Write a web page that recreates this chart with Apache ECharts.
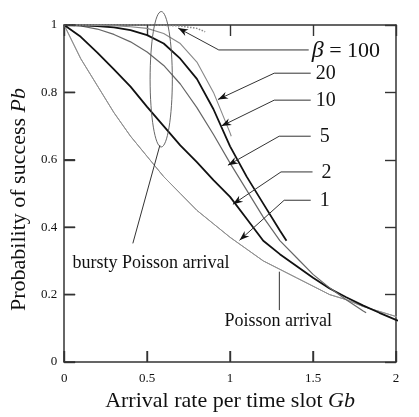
<!DOCTYPE html>
<html><head><meta charset="utf-8">
<script src="https://cdn.jsdelivr.net/npm/echarts/dist/echarts.min.js"></script>
<style>html,body{margin:0;padding:0;background:#fff}#c{width:419px;height:417px}</style>
</head><body><div id="c"></div>
<script>
// ---- data ----
const xTicks = [0, 0.5, 1, 1.5, 2];
const yTicks = [0, 0.2, 0.4, 0.6, 0.8, 1];

const gPoisson = [0,0.1,0.2,0.3,0.4,0.5,0.6,0.7,0.8,0.9,1.0,1.1,1.2,1.3,1.4,1.5,1.6,1.7,1.8,1.9,2.0,2.1,2.15];
const pPoisson = [1.0,0.90,0.82,0.74,0.67,0.61,0.55,0.50,0.45,0.41,0.37,0.335,0.30,0.275,0.25,0.225,0.20,0.185,0.165,0.15,0.135,0.12,0.115];

const gBeta1 = [0,0.1,0.2,0.3,0.4,0.5,0.6,0.7,0.8,0.9,1.0,1.1,1.2,1.3,1.4,1.5,1.6,1.7,1.8,1.9,2.0,2.1,2.15];
const pBeta1 = [1.0,0.90,0.82,0.74,0.67,0.61,0.55,0.50,0.45,0.41,0.37,0.335,0.30,0.275,0.25,0.225,0.20,0.185,0.165,0.15,0.135,0.12,0.115];

const gBeta2 = [0,0.1,0.2,0.3,0.4,0.5,0.6,0.7,0.8,0.9,1.0,1.1,1.2,1.3,1.4,1.5,1.6,1.7,1.8,1.9,2.0,2.1,2.15];
const pBeta2 = [1.0,0.965,0.918,0.868,0.817,0.757,0.70,0.643,0.593,0.54,0.49,0.425,0.36,0.32,0.285,0.25,0.218,0.192,0.168,0.146,0.125,0.106,0.098];

const gBeta5 = [0,0.1,0.2,0.3,0.4,0.5,0.6,0.7,0.8,0.9,1.0,1.1,1.2,1.3,1.4,1.5,1.6,1.7,1.8,1.82];
const pBeta5 = [1.0,0.997,0.988,0.972,0.95,0.92,0.88,0.825,0.755,0.675,0.59,0.51,0.43,0.36,0.31,0.26,0.22,0.185,0.152,0.146];

const gBeta10 = [0,0.1,0.2,0.3,0.4,0.5,0.6,0.7,0.8,0.9,1.0,1.1,1.2,1.3,1.34];
const pBeta10 = [1.0,0.999,0.997,0.993,0.985,0.97,0.945,0.90,0.84,0.75,0.64,0.55,0.47,0.39,0.36];

const gBeta20 = [0,0.1,0.2,0.3,0.4,0.5,0.6,0.7,0.8,0.9,1.0,1.007];
const pBeta20 = [1.0,1.0,0.999,0.998,0.995,0.99,0.975,0.945,0.89,0.80,0.68,0.67];

const gBeta100 = [0,0.1,0.2,0.3,0.4,0.5,0.6,0.7,0.8,0.85];
const pBeta100 = [1.0,1.0,1.0,1.0,1.0,1.0,0.999,0.997,0.99,0.98];

// callout annotations (data coordinates)
const calloutText = ['{b|β} = 100', '20', '10', '5', '2', '1'];
const calloutTip   = [[0.687,0.991],[0.927,0.779],[0.947,0.700],[0.987,0.584],[1.017,0.468],[1.057,0.361]];
const calloutElbow = [[0.932,0.926],[1.266,0.857],[1.266,0.777],[1.296,0.670],[1.307,0.564],[1.326,0.480]];
const calloutEnd   = [[1.474,0.926],[1.486,0.857],[1.486,0.777],[1.486,0.670],[1.497,0.564],[1.486,0.480]];

// ---- chart ----
const FONT = 'Liberation Serif, Times New Roman, serif';
const zip = (g, p) => g.map((x, i) => [x, p[i]]);

const chart = echarts.init(document.getElementById('c'), null, {renderer: 'canvas'});

function lineSeries(name, g, p, color, width, type) {
  return {
    name, type: 'line', data: zip(g, p), showSymbol: false, symbol: 'none',
    clip: false, smooth: false, silent: true,
    lineStyle: {color, width, type: type || 'solid'}, z: 3
  };
}

const AXC = '#333';
const axisLineStyle = () => ({show: true, onZero: false, lineStyle: {color: AXC, width: 1.5}});
const tickStyle = () => ({show: true, inside: true, length: 11, lineStyle: {color: AXC, width: 1.4}});

chart.setOption({
  animation: false,
  backgroundColor: '#fff',
  grid: {left: 62, top: 25, right: 23, bottom: 55, containLabel: false},
  xAxis: [
    {type: 'value', min: 0, max: 2, interval: 0.5, position: 'bottom',
     axisLine: axisLineStyle(), axisTick: tickStyle(), splitLine: {show: false},
     axisLabel: {fontFamily: FONT, fontSize: 13, color: '#111', margin: 10,
       formatter: v => xTicks.includes(v) ? String(v) : ''},
     name: 'Arrival rate per time slot {i|Gb}', nameLocation: 'middle', nameGap: 25,
     nameTextStyle: {fontFamily: FONT, fontSize: 22, color: '#111',
       rich: {i: {fontFamily: FONT, fontSize: 22, fontStyle: 'italic', color: '#111'}}}},
    {type: 'value', min: 0, max: 2, interval: 0.5, position: 'top',
     axisLine: axisLineStyle(), axisTick: tickStyle(), splitLine: {show: false},
     axisLabel: {show: false}}
  ],
  yAxis: [
    {type: 'value', min: 0, max: 1, interval: 0.2, position: 'left',
     axisLine: axisLineStyle(), axisTick: tickStyle(), splitLine: {show: false},
     axisLabel: {fontFamily: FONT, fontSize: 13, color: '#111', margin: 7,
       formatter: v => { const t = yTicks.find(y => Math.abs(y - v) < 1e-9); return t === undefined ? '' : String(t); }},
     name: 'Probability of success {i|Pb}', nameLocation: 'middle', nameGap: 32,
     nameTextStyle: {fontFamily: FONT, fontSize: 22, color: '#111', padding: [0, 12, 0, 0],
       rich: {i: {fontFamily: FONT, fontSize: 22, fontStyle: 'italic', color: '#111'}}}},
    {type: 'value', min: 0, max: 1, interval: 0.2, position: 'right',
     axisLine: axisLineStyle(), axisTick: tickStyle(), splitLine: {show: false},
     axisLabel: {show: false}}
  ],
  series: [
    lineSeries('β=1', gBeta1, pBeta1, '#909090', 1),
    lineSeries('Poisson', gPoisson, pPoisson, '#909090', 1),
    lineSeries('β=2', gBeta2, pBeta2, '#111', 1.8),
    lineSeries('β=5', gBeta5, pBeta5, '#666', 1.2),
    lineSeries('β=10', gBeta10, pBeta10, '#111', 1.8),
    lineSeries('β=20', gBeta20, pBeta20, '#888', 1.1),
    lineSeries('β=100', gBeta100, pBeta100, '#888', 1.5, 'dotted')
  ]
});

// ---- annotations ----
function px(pt) { return chart.convertToPixel({xAxisIndex: 0, yAxisIndex: 0}, pt); }
const elements = [];
const LINE = '#333';

// inward ticks on the bottom and left axes (drawn explicitly as well)
xTicks.forEach(v => {
  const p = px([v, 0]);
  elements.push({type: 'line', shape: {x1: p[0], y1: p[1], x2: p[0], y2: p[1] - 11}, style: {stroke: AXC, lineWidth: 1.5}, z: 12});
});
yTicks.forEach(v => {
  const p = px([0, v]);
  elements.push({type: 'line', shape: {x1: p[0], y1: p[1], x2: p[0] + 11, y2: p[1]}, style: {stroke: AXC, lineWidth: 1.5}, z: 12});
});

function arrowHead(tip, from) {
  const dx = tip[0] - from[0], dy = tip[1] - from[1];
  const L = Math.hypot(dx, dy); const ux = dx / L, uy = dy / L;
  const nx = -uy, ny = ux; const len = 10, w = 3.6, notch = 7;
  return [
    tip,
    [tip[0] - ux * len + nx * w, tip[1] - uy * len + ny * w],
    [tip[0] - ux * notch, tip[1] - uy * notch],
    [tip[0] - ux * len - nx * w, tip[1] - uy * len - ny * w]
  ];
}

calloutText.forEach((t, i) => {
  const tip = px(calloutTip[i]), el = px(calloutElbow[i]), en = px(calloutEnd[i]);
  elements.push({type: 'polyline', shape: {points: [en, el, tip]}, style: {stroke: LINE, lineWidth: 1, fill: null}, z: 10});
  elements.push({type: 'polygon', shape: {points: arrowHead(tip, el)}, style: {fill: '#111'}, z: 10});
  const big = i === 0;
  elements.push({type: 'text', x: en[0] + (big ? 3 : 5 + (t.length === 1 ? 4 : 0)), y: en[1] + 1, z: 10,
    style: {text: t, fontFamily: FONT, fontSize: big ? 22 : 20, fill: '#111', verticalAlign: 'middle', align: 'left',
      rich: {b: {fontFamily: FONT, fontSize: 24, fontStyle: 'italic', fill: '#111'}}}});
});

// Poisson arrival label
const poisTip = px([1.297, 0.268]), poisBase = px([1.297, 0.154]);
elements.push({type: 'line', shape: {x1: poisTip[0], y1: poisTip[1], x2: poisBase[0], y2: poisBase[1]}, style: {stroke: LINE, lineWidth: 1}, z: 10});
const poisLab = px([1.29, 0.122]);
elements.push({type: 'text', x: poisLab[0], y: poisLab[1], z: 10,
  style: {text: 'Poisson arrival', fontFamily: FONT, fontSize: 18, fill: '#111', align: 'center', verticalAlign: 'middle'}});

// bursty Poisson ellipse + label
const ec = px([0.585, 0.839]), ex = px([0.652, 0.839]), ey = px([0.585, 1.04]);
elements.push({type: 'ellipse', shape: {cx: ec[0], cy: ec[1], rx: Math.abs(ex[0] - ec[0]), ry: Math.abs(ec[1] - ey[1])},
  style: {stroke: '#555', lineWidth: 0.9, fill: null}, z: 10});
const bl1 = px([0.414, 0.352]), bl2 = px([0.577, 0.643]);
elements.push({type: 'line', shape: {x1: bl1[0], y1: bl1[1], x2: bl2[0], y2: bl2[1]}, style: {stroke: LINE, lineWidth: 1}, z: 10});
const bLab = px([0.05, 0.292]);
elements.push({type: 'text', x: bLab[0], y: bLab[1], z: 10,
  style: {text: 'bursty Poisson arrival', fontFamily: FONT, fontSize: 18, fill: '#111', align: 'left', verticalAlign: 'middle'}});

chart.setOption({graphic: {elements}});
</script>
</body></html>
